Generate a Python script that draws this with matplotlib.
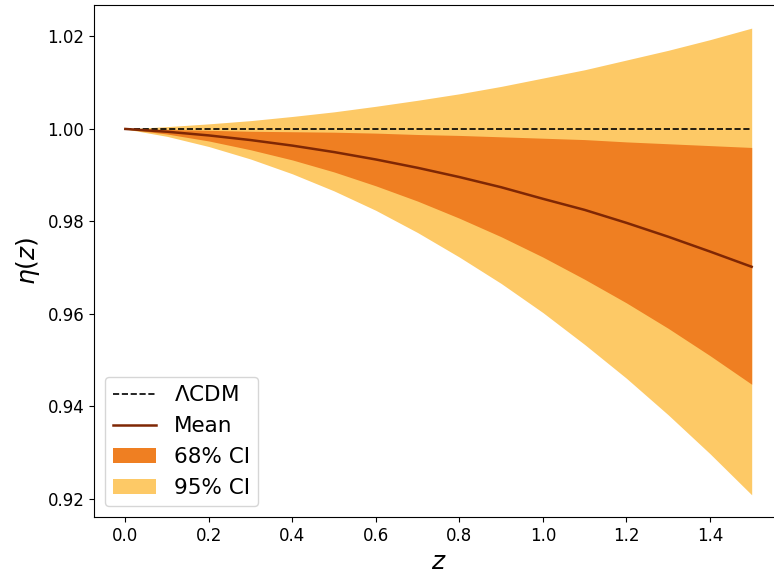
import matplotlib.pyplot as plt

# redshift grid and values
z = [0.0, 0.1, 0.2, 0.3, 0.4, 0.5, 0.6, 0.7, 0.8, 0.9, 1.0, 1.1, 1.2, 1.3, 1.4, 1.5]
eta_mean = [1.0000, 0.9994, 0.9986, 0.9976, 0.9964, 0.9950, 0.9934, 0.9916,
            0.9896, 0.9874, 0.9849, 0.9825, 0.9797, 0.9767, 0.9735, 0.9702]
lo68 = [1.0000, 0.9989, 0.9974, 0.9955, 0.9933, 0.9907, 0.9877, 0.9844,
        0.9807, 0.9767, 0.9723, 0.9675, 0.9624, 0.9569, 0.9510, 0.9448]
hi68 = [1.0000, 0.9999, 0.9997, 0.9995, 0.9994, 0.9993, 0.9991, 0.9988,
        0.9986, 0.9983, 0.9980, 0.9977, 0.9972, 0.9968, 0.9964, 0.9960]
lo95 = [1.0000, 0.9984, 0.9962, 0.9935, 0.9903, 0.9866, 0.9824, 0.9776,
        0.9723, 0.9666, 0.9603, 0.9534, 0.9461, 0.9382, 0.9298, 0.9209]
hi95 = [1.0000, 1.0005, 1.0011, 1.0018, 1.0027, 1.0037, 1.0049, 1.0062,
        1.0076, 1.0092, 1.0110, 1.0128, 1.0149, 1.0170, 1.0193, 1.0218]

fig = plt.figure(figsize=(7.74, 5.79), dpi=100)
# right side of the original figure is cut off
ax = fig.add_axes([94 / 774, 62 / 579, 689 / 774, 512 / 579])

ax.fill_between(z, lo95, hi95, color='#fdc966', lw=0, label='95% CI')
ax.fill_between(z, lo68, hi68, color='#ef7f22', lw=0, label='68% CI')
ax.plot(z, [1.0] * len(z), 'k--', lw=1.2, label=r'$\Lambda$CDM')
ax.plot(z, eta_mean, color='#7f2704', lw=1.8, label='Mean')

ax.set_xlim(-0.075, 1.575)
ax.set_ylim(0.9161, 1.0268)
ax.set_xticks([0.0, 0.2, 0.4, 0.6, 0.8, 1.0, 1.2, 1.4])
ax.set_yticks([0.92, 0.94, 0.96, 0.98, 1.00, 1.02])
ax.tick_params(labelsize=12)
ax.set_xlabel(r'$z$', fontsize=18)
ax.set_ylabel(r'$\eta(z)$', fontsize=18)

h, l = ax.get_legend_handles_labels()
order = [2, 3, 1, 0]
ax.legend([h[i] for i in order], [l[i] for i in order], loc='lower left', fontsize=15.5)

fig.savefig('out.png', dpi=100)
